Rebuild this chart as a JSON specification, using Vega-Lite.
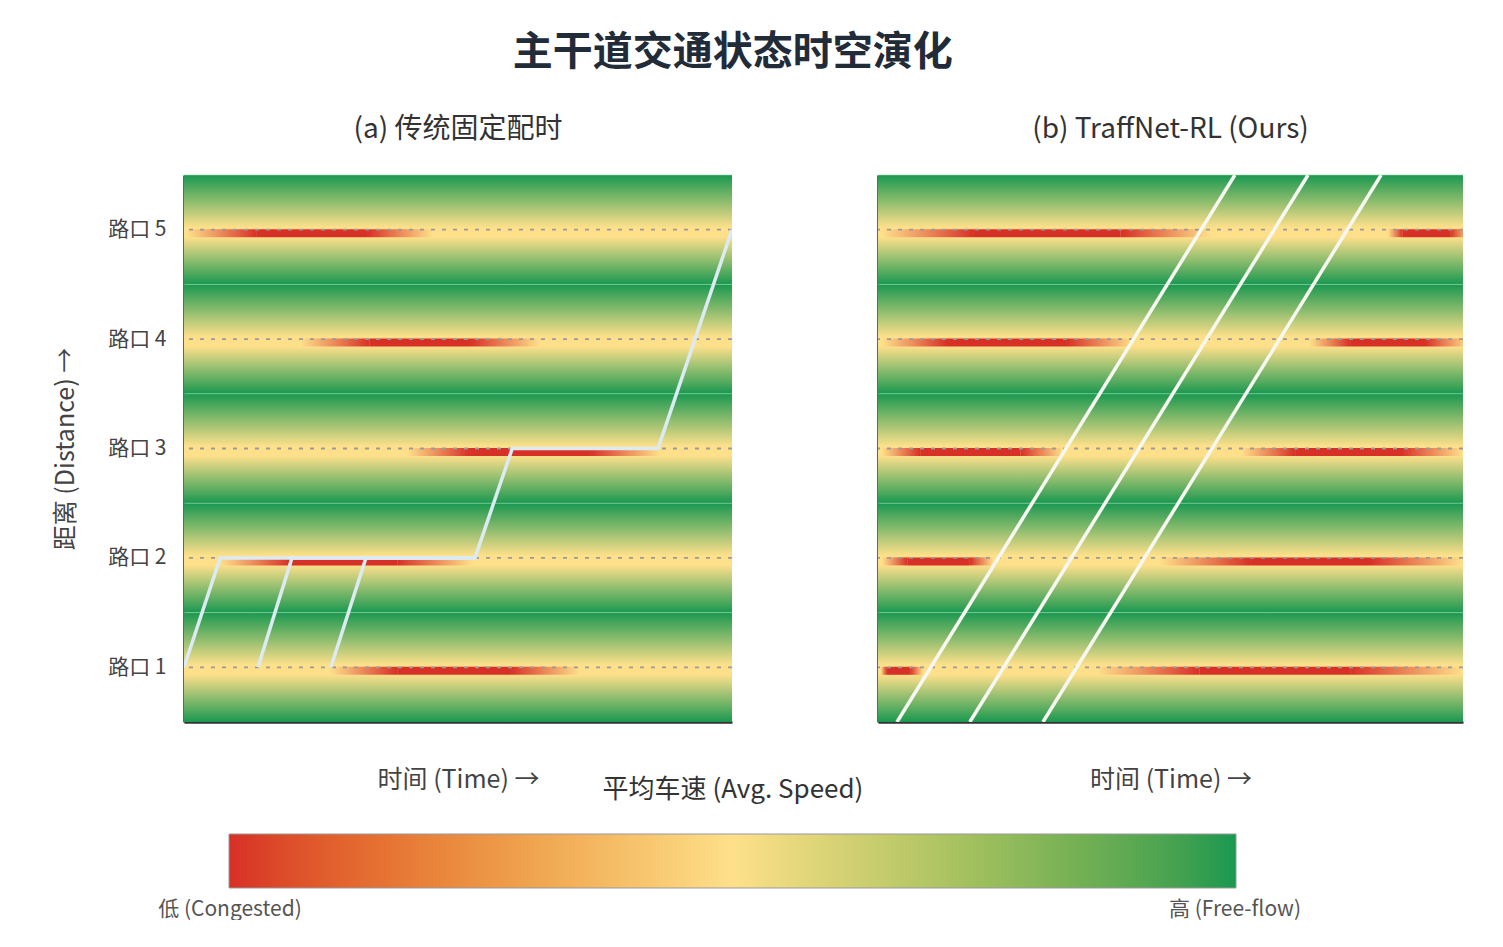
{
  "$schema": "https://vega.github.io/schema/vega-lite/v6.json",
  "padding": {"left": 53, "top": 32, "right": 0, "bottom": 0},
  "background": "white",
  "config": {
    "font": "Noto Sans CJK SC",
    "view": {"stroke": null},
    "axis": {"grid": false}
  },
  "title": {"text": "主干道交通状态时空演化", "fontSize": 40, "fontWeight": "bold", "color": "#222b38", "anchor": "middle", "offset": 43, "dx": -26},
  "datasets": {
    "intersections": [
      {"row": 1, "lo": 0.5, "hi": 1.5},
      {"row": 2, "lo": 1.5, "hi": 2.5},
      {"row": 3, "lo": 2.5, "hi": 3.5},
      {"row": 4, "lo": 3.5, "hi": 4.5},
      {"row": 5, "lo": 4.5, "hi": 5.5}
    ],
    "streaksA": [
      {"row": 5, "a": 0.5, "b": 13.3, "c": 33.4, "d": 45.4, "speed": 0},
      {"row": 4, "a": 21.2, "b": 33.9, "c": 52.2, "d": 65.0, "speed": 0},
      {"row": 3, "a": 40.7, "b": 52.2, "c": 74.1, "d": 86.9, "speed": 0},
      {"row": 2, "a": 6.6, "b": 19.3, "c": 38.9, "d": 52.7, "speed": 0},
      {"row": 1, "a": 26.6, "b": 38.9, "c": 59.5, "d": 72.3, "speed": 0}
    ],
    "streaksB": [
      {"row": 5, "a": 0.7, "b": 16.4, "c": 41.5, "d": 56.8, "speed": 0},
      {"row": 5, "a": 87.2, "b": 89.7, "c": 97.8, "d": 101.2, "speed": 0},
      {"row": 4, "a": 0.7, "b": 11.8, "c": 32.3, "d": 43.6, "speed": 0},
      {"row": 4, "a": 73.8, "b": 80.7, "c": 93.5, "d": 100.9, "speed": 0},
      {"row": 3, "a": 0.7, "b": 7.2, "c": 24.4, "d": 31.6, "speed": 0},
      {"row": 3, "a": 62.1, "b": 71.3, "c": 89.4, "d": 100.0, "speed": 0},
      {"row": 2, "a": 0.7, "b": 5.0, "c": 15.7, "d": 19.7, "speed": 0},
      {"row": 2, "a": 48.2, "b": 63.6, "c": 84.1, "d": 100.0, "speed": 0},
      {"row": 1, "a": 0.5, "b": 1.5, "c": 5.5, "d": 7.7, "speed": 0},
      {"row": 1, "a": 37.4, "b": 55.0, "c": 80.7, "d": 100.0, "speed": 0}
    ],
    "tracksA": [
      {"veh": 1, "seq": 1, "t": 0, "d": 1},
      {"veh": 1, "seq": 2, "t": 6.6, "d": 2},
      {"veh": 1, "seq": 3, "t": 53.1, "d": 2},
      {"veh": 1, "seq": 4, "t": 59.9, "d": 3},
      {"veh": 1, "seq": 5, "t": 86.5, "d": 3},
      {"veh": 1, "seq": 6, "t": 100, "d": 5},
      {"veh": 2, "seq": 1, "t": 13.5, "d": 1},
      {"veh": 2, "seq": 2, "t": 19.7, "d": 2},
      {"veh": 2, "seq": 3, "t": 53.1, "d": 2},
      {"veh": 3, "seq": 1, "t": 26.8, "d": 1},
      {"veh": 3, "seq": 2, "t": 33.2, "d": 2},
      {"veh": 3, "seq": 3, "t": 53.1, "d": 2}
    ],
    "tracksB": [
      {"veh": 1, "seq": 1, "t": 3.25, "d": 0.5},
      {"veh": 1, "seq": 2, "t": 61.0, "d": 5.5},
      {"veh": 2, "seq": 1, "t": 15.7, "d": 0.5},
      {"veh": 2, "seq": 2, "t": 73.5, "d": 5.5},
      {"veh": 3, "seq": 1, "t": 28.2, "d": 0.5},
      {"veh": 3, "seq": 2, "t": 86.0, "d": 5.5}
    ]
  },
  "spacing": 144,
  "hconcat": [
    {
      "width": 548,
      "height": 547,
      "title": {"text": "(a) 传统固定配时", "fontSize": 28, "fontWeight": "normal", "color": "#333333", "offset": 31},
      "layer": [
        {
          "data": {"name": "intersections"},
          "mark": {"type": "rect", "fill": {"gradient": "linear", "x1": 0, "y1": 0, "x2": 0, "y2": 1, "stops": [
            {"offset": 0, "color": "#1a9850"},
            {"offset": 0.48, "color": "#fee08b"},
            {"offset": 0.565, "color": "#fee08b"},
            {"offset": 1, "color": "#1a9850"}]}},
          "encoding": {
            "x": {"datum": 0, "type": "quantitative", "scale": {"domain": [0, 100], "nice": false, "zero": false, "padding": 0},
              "axis": {"labels": false, "ticks": false, "title": "时间 (Time) →", "titleFontSize": 25, "titleFontWeight": "normal", "titleColor": "#444444", "titlePadding": 45, "domainColor": "#333333", "domainWidth": 2.5}},
            "x2": {"datum": 100},
            "y": {"field": "lo", "type": "quantitative", "scale": {"domain": [0.5, 5.5], "nice": false, "zero": false, "padding": 0},
              "axis": {"values": [1, 2, 3, 4, 5], "labelExpr": "'路口 ' + datum.value", "ticks": false, "labelFontSize": 21, "labelColor": "#444444", "labelPadding": 18, "title": "距离 (Distance) →", "titleFontSize": 25, "titleFontWeight": "normal", "titleColor": "#444444", "titlePadding": 29, "domainColor": "#333333", "domainWidth": 2.5}},
            "y2": {"field": "hi"}
          }
        },
        {
          "data": {"name": "intersections"},
          "mark": {"type": "rule", "color": "#8fd3a4", "strokeWidth": 1, "opacity": 0.6},
          "encoding": {"y": {"field": "hi", "type": "quantitative"}}
        },
        {
          "data": {"name": "streaksA"},
          "mark": {"type": "bar", "orient": "horizontal", "size": 8, "yOffset": 3.5, "clip": true, "fill": {"gradient": "linear", "x1": 0, "y1": 0, "x2": 1, "y2": 0, "stops": [{"offset": 0, "color": "#fee08b"}, {"offset": 1, "color": "#d73027"}]}},
          "encoding": {"x": {"field": "a", "type": "quantitative"}, "x2": {"field": "b"}, "y": {"field": "row", "type": "quantitative"}}
        },
        {
          "data": {"name": "streaksA"},
          "mark": {"type": "bar", "orient": "horizontal", "size": 8, "yOffset": 3.5, "clip": true},
          "encoding": {
            "x": {"field": "b", "type": "quantitative"}, "x2": {"field": "c"}, "y": {"field": "row", "type": "quantitative"},
            "color": {"field": "speed", "type": "quantitative",
              "scale": {"domain": [0, 0.5, 1], "range": ["#d73027", "#fee08b", "#1a9850"]},
              "legend": {"orient": "none", "legendX": 45, "legendY": 602, "direction": "horizontal", "gradientLength": 1007, "gradientThickness": 54, "gradientStrokeColor": "#999999", "gradientStrokeWidth": 1,
                "title": "平均车速 (Avg. Speed)", "titleFontSize": 26, "titleFontWeight": "normal", "titleColor": "#333333", "titleAnchor": "middle", "titleAlign": "center", "titlePadding": 31, "titleLimit": 800,
                "values": [0.001, 0.999], "labelExpr": "datum.value < 0.5 ? '低 (Congested)' : '高 (Free-flow)'", "labelFontSize": 21, "labelColor": "#555555", "labelOffset": 11, "labelLimit": 400}}
          }
        },
        {
          "data": {"name": "streaksA"},
          "mark": {"type": "bar", "orient": "horizontal", "size": 8, "yOffset": 3.5, "clip": true, "fill": {"gradient": "linear", "x1": 0, "y1": 0, "x2": 1, "y2": 0, "stops": [{"offset": 0, "color": "#d73027"}, {"offset": 1, "color": "#fee08b"}]}},
          "encoding": {"x": {"field": "c", "type": "quantitative"}, "x2": {"field": "d"}, "y": {"field": "row", "type": "quantitative"}}
        },
        {
          "data": {"name": "intersections"},
          "mark": {"type": "rule", "color": "#9a9a9a", "strokeWidth": 1.8, "strokeDash": [4, 7], "opacity": 1},
          "encoding": {"y": {"field": "row", "type": "quantitative"}}
        },
        {
          "data": {"name": "tracksA"},
          "mark": {"type": "line", "color": "#dbeaf3", "strokeWidth": 3.5, "clip": true},
          "encoding": {"x": {"field": "t", "type": "quantitative"}, "y": {"field": "d", "type": "quantitative"}, "detail": {"field": "veh"}, "order": {"field": "seq"}}
        }
      ]
    },
    {
      "width": 585,
      "height": 547,
      "title": {"text": "(b) TraffNet-RL (Ours)", "fontSize": 28, "fontWeight": "normal", "color": "#333333", "offset": 31},
      "layer": [
        {
          "data": {"name": "intersections"},
          "mark": {"type": "rect", "fill": {"gradient": "linear", "x1": 0, "y1": 0, "x2": 0, "y2": 1, "stops": [
            {"offset": 0, "color": "#1a9850"},
            {"offset": 0.48, "color": "#fee08b"},
            {"offset": 0.565, "color": "#fee08b"},
            {"offset": 1, "color": "#1a9850"}]}},
          "encoding": {
            "x": {"datum": 0, "type": "quantitative", "scale": {"domain": [0, 100], "nice": false, "zero": false, "padding": 0},
              "axis": {"labels": false, "ticks": false, "title": "时间 (Time) →", "titleFontSize": 25, "titleFontWeight": "normal", "titleColor": "#444444", "titlePadding": 45, "domainColor": "#333333", "domainWidth": 2.5}},
            "x2": {"datum": 100},
            "y": {"field": "lo", "type": "quantitative", "scale": {"domain": [0.5, 5.5], "nice": false, "zero": false, "padding": 0},
              "axis": {"labels": false, "ticks": false, "title": null, "minExtent": 0, "maxExtent": 0, "domainColor": "#333333", "domainWidth": 2.5}},
            "y2": {"field": "hi"}
          }
        },
        {
          "data": {"name": "intersections"},
          "mark": {"type": "rule", "color": "#8fd3a4", "strokeWidth": 1, "opacity": 0.6},
          "encoding": {"y": {"field": "hi", "type": "quantitative"}}
        },
        {
          "data": {"name": "streaksB"},
          "mark": {"type": "bar", "orient": "horizontal", "size": 8, "yOffset": 3.5, "clip": true, "fill": {"gradient": "linear", "x1": 0, "y1": 0, "x2": 1, "y2": 0, "stops": [{"offset": 0, "color": "#fee08b"}, {"offset": 1, "color": "#d73027"}]}},
          "encoding": {"x": {"field": "a", "type": "quantitative"}, "x2": {"field": "b"}, "y": {"field": "row", "type": "quantitative"}}
        },
        {
          "data": {"name": "streaksB"},
          "mark": {"type": "bar", "orient": "horizontal", "size": 8, "yOffset": 3.5, "clip": true, "fill": "#d73027"},
          "encoding": {"x": {"field": "b", "type": "quantitative"}, "x2": {"field": "c"}, "y": {"field": "row", "type": "quantitative"}}
        },
        {
          "data": {"name": "streaksB"},
          "mark": {"type": "bar", "orient": "horizontal", "size": 8, "yOffset": 3.5, "clip": true, "fill": {"gradient": "linear", "x1": 0, "y1": 0, "x2": 1, "y2": 0, "stops": [{"offset": 0, "color": "#d73027"}, {"offset": 1, "color": "#fee08b"}]}},
          "encoding": {"x": {"field": "c", "type": "quantitative"}, "x2": {"field": "d"}, "y": {"field": "row", "type": "quantitative"}}
        },
        {
          "data": {"name": "intersections"},
          "mark": {"type": "rule", "color": "#9a9a9a", "strokeWidth": 1.8, "strokeDash": [4, 7], "opacity": 1},
          "encoding": {"y": {"field": "row", "type": "quantitative"}}
        },
        {
          "data": {"name": "tracksB"},
          "mark": {"type": "line", "color": "#f8f8f2", "strokeWidth": 3.5, "clip": true},
          "encoding": {"x": {"field": "t", "type": "quantitative"}, "y": {"field": "d", "type": "quantitative"}, "detail": {"field": "veh"}, "order": {"field": "seq"}}
        }
      ]
    }
  ]
}
